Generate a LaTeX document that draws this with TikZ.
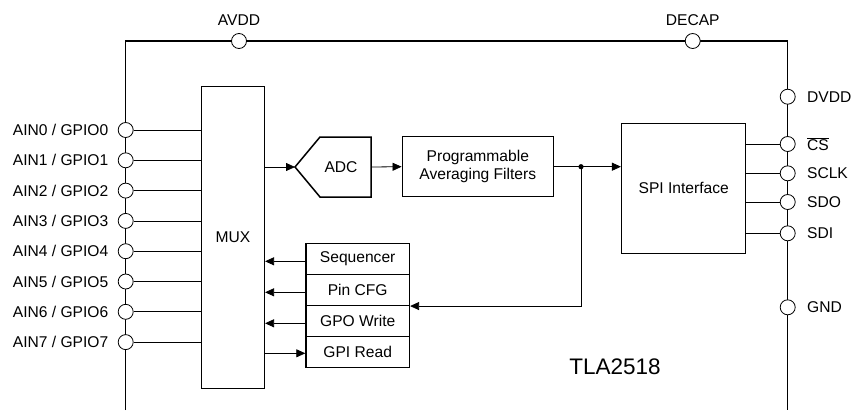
\documentclass[tikz,border=0pt]{standalone}
\usepackage{fontspec}
\setmainfont{Liberation Sans}
\usetikzlibrary{arrows.meta,calc}

\tikzset{
  pin/.style={circle,draw,fill=white,line width=0.8pt,minimum size=15pt,inner sep=0pt},
  blk/.style={draw,line width=1.5pt,inner sep=0pt},
  wire/.style={line width=0.8pt},
  sig/.style={line width=0.8pt,-{Triangle[length=9pt,width=8pt]}},
  lbl/.style={font=\fontsize{15.6}{18.3}\selectfont}
}

\begin{document}
\begin{tikzpicture}[x=1pt,y=-1pt]
\useasboundingbox (0,0) rectangle (851,410);

% package outline
\draw[line width=1.3pt] (125.7,410) -- (125.7,41) -- (787.7,41) -- (787.7,410);

% blocks
\node[blk,minimum width=62.6pt,minimum height=301.6pt,lbl] (mux) at (233,237.5) {MUX};
\draw[blk] (295,167) -- (320,137) -- (371,137) -- (371,197) -- (320,197) -- cycle;
\coordinate (adcin) at (295,167);
\coordinate (adcout) at (371,167);
\node[lbl] (adc) at (341,167) {ADC};
\node[blk,minimum width=151pt,minimum height=60pt,lbl,align=center] (filt) at (477.8,166.7)
  {Programmable\\Averaging Filters};
\node[blk,minimum width=124pt,minimum height=130pt,lbl] (spi) at (683.7,188.3) {SPI Interface};

\node[blk,minimum width=103.3pt,minimum height=31pt,lbl] (seq) at (357.7,258.8) {Sequencer};
\node[blk,minimum width=103.3pt,minimum height=31pt,lbl] (cfg) at (357.7,289.8) {Pin CFG};
\node[blk,minimum width=103.3pt,minimum height=31pt,lbl] (gpo) at (357.7,320.8) {GPO Write};
\node[blk,minimum width=103.3pt,minimum height=31pt,lbl] (gpi) at (357.7,351.8) {GPI Read};

\node[lbl,font=\fontsize{22.5}{26}\selectfont] (part) at (615,367) {TLA2518};

% supply pins
\node[pin] (avdd) at (239,41) {};
\node[pin] (decap) at (692.7,41) {};
\node[lbl,above=4pt] at (avdd.north) {AVDD};
\node[lbl,above=4pt] at (decap.north) {DECAP};

% analog / gpio pins
\foreach \i in {0,...,7}{
  \node[pin] (ain\i) at (125.7,130+30.3*\i) {};
  \node[lbl,left=6pt] at (ain\i.west) {AIN\i{} / GPIO\i};
  \draw[wire] (ain\i.east) -- (ain\i.east -| mux.west);
}

% digital pins
\foreach \n/\y/\t in {dvdd/96.7/DVDD,cs/144/$\overline{\mbox{CS}}$,sclk/173.3/SCLK,sdo/202/SDO,sdi/233.3/SDI,gnd/307.3/GND}{
  \node[pin] (\n) at (787.7,\y) {};
  \node[lbl,right=8pt] at (\n.east) {\t};
}
\foreach \n in {cs,sclk,sdo,sdi}
  \draw[wire] (\n.west -| spi.east) -- (\n.west);

% data path
\draw[sig] (mux.east |- adcin) -- (adcin);
\draw[sig] (adcout) -- (filt.west);
\coordinate (tap) at (581,166.7);
\draw[sig] (filt.east) -- (filt.east -| spi.west);
\fill (tap) circle (2.6pt);
\draw[sig] (tap) |- (cfg.south east);

% control
\draw[sig] ($(seq.west)+(0,2.5)$) -- ($(seq.west -| mux.east)+(0,2.5)$);
\draw[sig] ($(cfg.west)+(0,2.5)$) -- ($(cfg.west -| mux.east)+(0,2.5)$);
\draw[sig] ($(gpo.west)+(0,2.5)$) -- ($(gpo.west -| mux.east)+(0,2.5)$);
\draw[sig] ($(gpi.west -| mux.east)+(0,1.5)$) -- ($(gpi.west)+(0,1.5)$);

\end{tikzpicture}
\end{document}
